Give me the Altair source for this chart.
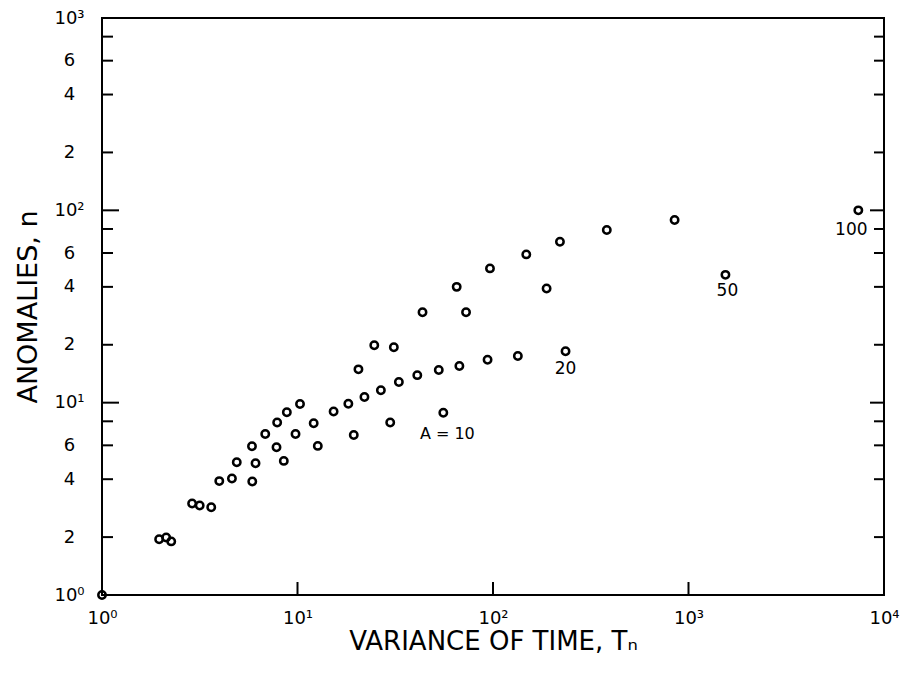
import altair as alt
import pandas as pd

# ---- data ----
x_vals = [1.0, 1.96, 2.13, 2.26, 2.89, 3.16, 3.62, 3.98, 4.62, 5.87, 4.89, 6.1, 5.85,
          6.84, 7.81, 7.87, 8.82, 8.51, 10.3, 9.77, 12.1, 12.7, 15.3, 18.2, 19.4, 22.0,
          20.5, 24.7, 26.7, 29.8, 31.1, 33.0, 41.0, 43.6, 52.8, 55.7, 65.2, 67.3, 72.8,
          93.8, 96.5, 134, 148, 188, 220, 235, 382, 849, 1545, 7390]
y_vals = [1.0, 1.95, 1.99, 1.90, 2.99, 2.92, 2.86, 3.91, 4.03, 3.89, 4.90, 4.84, 5.93,
          6.87, 5.86, 7.88, 8.91, 4.98, 9.84, 6.87, 7.81, 5.96, 9.0, 9.88, 6.79, 10.7,
          14.9, 19.9, 11.6, 7.88, 19.4, 12.8, 13.9, 29.5, 14.8, 8.87, 40.0, 15.5, 29.5,
          16.7, 49.9, 17.5, 59.0, 39.2, 68.7, 18.5, 79.0, 89.1, 46.2, 100]

ann_labels = ["A = 10", "20", "50", "100"]
ann_x = [55.7, 235, 1545, 7390]
ann_y = [8.87, 18.5, 46.2, 100]
ann_dx = [4, 0, 2, -7]
ann_dy = [21, 18, 16, 20]

x_tick_values = [1, 10, 100, 1000, 10000]
x_tick_labels = ["10⁰", "10¹", "10²", "10³", "10⁴"]
y_tick_values = [1, 2, 4, 6, 10, 20, 40, 60, 100, 200, 400, 600, 1000]
y_tick_labels = ["10⁰", "2", "4", "6", "10¹", "2", "4", "6", "10²", "2", "4", "6", "10³"]

major_y = [10, 100]
minor_y = [2, 4, 6, 8, 20, 40, 60, 80, 200, 400, 600, 800]
major_x = [10, 100, 1000]

W, H = 782, 577
FONT = "DejaVu Sans"


def label_expr(values, labels):
    expr = "''"
    for v, l in reversed(list(zip(values, labels))):
        expr = f"datum.value == {v} ? '{l}' : ({expr})"
    return expr


pts = pd.DataFrame({"x": x_vals, "y": y_vals})
ann = pd.DataFrame({"label": ann_labels, "x": ann_x, "y": ann_y})

xscale = alt.Scale(type="log", domain=[1, 10000])
yscale = alt.Scale(type="log", domain=[1, 1000])

xenc = alt.X("x:Q", scale=xscale, title="VARIANCE OF TIME, Tₙ",
             axis=alt.Axis(values=x_tick_values, labelExpr=label_expr(x_tick_values, x_tick_labels),
                           ticks=False, tickSize=0, domain=False, grid=False,
                           labelPadding=14, labelFontSize=18, titleFontSize=26,
                           titlePadding=1, labelFont=FONT, titleFont=FONT,
                           labelColor="black", titleColor="black", titleFontWeight="normal",
                           labelFlush=False, labelOverlap=False))
yenc = alt.Y("y:Q", scale=yscale, title="ANOMALIES, n",
             axis=alt.Axis(values=y_tick_values, labelExpr=label_expr(y_tick_values, y_tick_labels),
                           ticks=False, tickSize=0, domain=False, grid=False,
                           labelAlign="center", labelPadding=33, labelFontSize=18,
                           titleFontSize=27, titlePadding=11, labelFont=FONT, titleFont=FONT,
                           labelColor="black", titleColor="black", titleFontWeight="normal",
                           labelFlush=False, labelOverlap=False))

points = alt.Chart(pts).mark_point(shape="circle", filled=False, color="black",
                                   strokeWidth=2.5, size=55, opacity=1).encode(x=xenc, y=yenc)

texts = []
for i in range(len(ann_labels)):
    texts.append(
        alt.Chart(ann.iloc[[i]]).mark_text(font=FONT, fontSize=17 if i else 16, color="black",
                                           dx=ann_dx[i], dy=ann_dy[i]).encode(
            x=alt.X("x:Q", scale=xscale), y=alt.Y("y:Q", scale=yscale), text="label:N")
    )


def yticks(vals, x0, x1):
    return alt.Chart(pd.DataFrame({"y": vals})).mark_rule(color="black", strokeWidth=2).encode(
        y=alt.Y("y:Q", scale=yscale), x=alt.value(x0), x2=alt.value(x1))


left_major = yticks(major_y, 0, 17)
left_minor = yticks(minor_y, 0, 11)
right_major = yticks(major_y, W, W - 14)
right_minor = yticks(minor_y, W, W - 10)
bottom = alt.Chart(pd.DataFrame({"x": major_x})).mark_rule(color="black", strokeWidth=2).encode(
    x=alt.X("x:Q", scale=xscale), y=alt.value(H), y2=alt.value(H - 13))

chart = alt.layer(points, *texts, left_major, left_minor, right_major, right_minor, bottom).properties(
    width=W, height=H, background="white",
    padding={"left": 6, "top": 1, "right": 0, "bottom": 2}
).configure_view(stroke="black", strokeWidth=2)

chart.save("out.html", embed_options={"renderer": "svg", "actions": False})
